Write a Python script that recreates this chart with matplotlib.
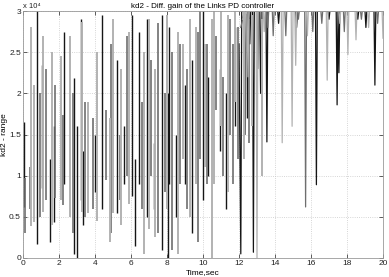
import numpy as np
import matplotlib
matplotlib.use("Agg")
import matplotlib.pyplot as plt

# kd2 in units of 1e4.  Up to ~13 s the three runs show as vertical bars
# (time, low, high); after 12 s they sit at the 3e4 limit with dips.
bar_t_dark = [0.05, 0.78, 1.05, 1.5, 1.7, 2.3, 2.85, 3.0, 3.2, 3.35,
              4.0, 4.4, 5.2, 5.6, 6.06, 6.2, 6.45, 6.9, 7.3, 7.7,
              8.05, 8.1, 8.5, 9.0, 9.4, 10.0, 10.3, 10.95, 11.3, 11.8,
              12.45]
bar_lo_dark = [0.62, 0.17, 0.85, 0.2, 0.44, 0.9, 0.05, 0.0, 0.7, 0.4,
               0.8, 0.6, 0.55, 0.9, 0.75, 0.15, 0.9, 0.5, 0.6, 0.1,
               0.0, 0.9, 0.5, 0.9, 0.3, 0.7, 1.0, 1.3, 0.6, 1.6,
               1.7]
bar_hi_dark = [1.65, 3.0, 2.34, 1.2, 1.6, 2.75, 2.19, 1.6, 2.9, 1.3,
               1.5, 2.95, 2.4, 1.6, 2.95, 1.2, 2.75, 2.9, 1.4, 2.95,
               2.0, 2.8, 1.5, 2.1, 2.4, 3.0, 2.2, 2.3, 2.0, 2.8,
               3.0]

bar_t_mid = [0.1, 0.4, 0.95, 1.3, 1.8, 2.2, 2.75, 3.45, 3.9, 4.6,
             4.9, 5.4, 5.8, 6.6, 7.1, 7.5, 7.9, 8.3, 8.7, 9.1,
             9.7, 9.85, 10.2, 10.7, 11.1, 11.5, 11.65, 11.95, 12.55, 13.3]
bar_lo_mid = [0.3, 0.6, 0.5, 0.7, 0.73, 0.64, 0.3, 0.5, 0.6, 0.95,
              0.3, 0.7, 1.0, 0.6, 1.0, 0.3, 0.8, 0.1, 0.9, 0.6,
              0.2, 1.2, 0.9, 1.8, 1.0, 1.5, 0.9, 1.2, 1.4, 1.8]
bar_hi_mid = [0.97, 1.1, 2.0, 2.3, 2.1, 1.74, 2.0, 1.9, 1.7, 1.8,
              2.6, 1.5, 2.7, 1.9, 2.4, 2.85, 2.0, 2.5, 2.6, 2.3,
              2.75, 3.0, 2.6, 2.7, 2.2, 2.9, 2.6, 2.8, 2.9, 3.0]

bar_t_light = [0.45, 0.6, 1.1, 1.6, 2.1, 2.6, 3.25, 3.6, 4.1, 4.85,
               5.0, 5.45, 5.9, 6.7, 7.0, 7.35, 8.0, 8.6, 8.9, 9.3,
               9.6, 10.1, 10.5, 10.6, 11.0, 11.4, 11.75, 12.25, 12.7, 13.25]
bar_lo_light = [0.39, 0.44, 0.56, 0.4, 0.7, 0.5, 0.56, 0.55, 0.45, 0.2,
                0.55, 0.4, 0.65, 0.05, 0.35, 0.25, 0.6, 0.05, 1.2, 0.5,
                0.9, 1.1, 0.0, 0.9, 1.6, 0.8, 1.9, 1.2, 1.6, 1.0]
bar_hi_light = [2.8, 2.1, 2.7, 2.5, 2.45, 2.7, 2.87, 1.9, 2.5, 1.7,
                2.9, 2.3, 2.75, 2.5, 2.9, 2.3, 2.95, 2.75, 2.6, 2.9,
                2.8, 2.6, 2.9, 3.0, 3.0, 2.95, 3.0, 3.0, 2.95, 2.9]

t_dark = [12.0, 12.1, 12.15, 12.55, 12.6, 12.65, 12.75, 12.8, 12.85, 13.15,
          13.2, 13.25, 13.5, 13.55, 13.6, 14.15, 14.2, 14.25, 15.15, 15.2,
          15.25, 16.25, 16.3, 16.35, 16.95, 17.0, 17.05, 17.4, 17.45, 17.5,
          17.55, 17.6, 18.55, 18.6, 18.65, 19.0, 19.05, 19.1, 19.5, 19.55,
          19.6, 20.0]
kd2_dark = [2.6, 0.05, 3.0, 3.0, 2.6, 3.0, 3.0, 0.07, 3.0, 3.0,
            2.0, 3.0, 3.0, 1.41, 3.0, 3.0, 2.85, 3.0, 3.0, 2.8,
            3.0, 3.0, 0.89, 3.0, 3.0, 2.9, 3.0, 3.0, 1.86, 3.0,
            2.25, 3.0, 3.0, 2.9, 3.0, 3.0, 2.8, 3.0, 3.0, 2.1,
            3.0, 3.0]

t_mid = [12.1, 12.3, 12.35, 12.4, 13.0, 13.05, 13.1, 13.55, 13.6, 13.65,
         13.85, 13.9, 13.95, 14.55, 14.6, 14.65, 15.25, 15.3, 15.35, 15.65,
         15.7, 15.75, 16.05, 16.1, 16.15, 16.55, 16.6, 16.65, 17.8, 17.85,
         17.9, 18.75, 18.8, 18.85, 19.65, 19.7, 19.75, 20.0]
kd2_mid = [2.8, 3.0, 1.5, 3.0, 3.0, 2.3, 3.0, 3.0, 2.8, 3.0,
           3.0, 2.7, 3.0, 3.0, 2.7, 3.0, 3.0, 2.9, 3.0, 3.0,
           0.62, 3.0, 3.0, 2.75, 3.0, 3.0, 2.85, 3.0, 3.0, 2.75,
           3.0, 3.0, 2.9, 3.0, 3.0, 2.85, 3.0, 3.0]

t_light = [12.2, 12.45, 12.5, 12.55, 12.95, 13.0, 13.05, 13.35, 13.4, 13.45,
           14.35, 14.4, 14.45, 14.9, 14.95, 15.0, 15.1, 15.15, 15.2, 15.75,
           15.8, 15.85, 16.85, 16.9, 16.95, 17.55, 17.6, 17.65, 18.0, 18.05,
           18.1, 18.45, 18.5, 18.55, 19.15, 19.2, 19.25, 19.95, 20.0]
kd2_light = [2.9, 3.0, 2.2, 3.0, 3.0, 0.0, 3.0, 3.0, 2.75, 3.0,
             3.0, 1.4, 3.0, 3.0, 1.6, 3.0, 3.0, 2.34, 3.0, 3.0,
             2.7, 3.0, 3.0, 2.16, 3.0, 3.0, 2.85, 3.0, 3.0, 2.47,
             3.0, 3.0, 2.65, 3.0, 3.0, 2.8, 3.0, 3.0, 2.67]

x_ticks = np.arange(0, 21, 2)
y_ticks = np.arange(0, 3.01, 0.5)

colors = {'dark': '#151515', 'mid': '#6e6e6e', 'light': '#b2b2b2'}


def main(w=389, h=277, fs=6):
    plt.rcParams['font.family'] = ['Liberation Sans', 'DejaVu Sans']
    fig = plt.figure(figsize=(w / 100, h / 100), dpi=100)
    ax = fig.add_axes([23 / w, 19 / h, 360 / w, 247 / h])

    runs = [('dark', bar_t_dark, bar_lo_dark, bar_hi_dark, t_dark, kd2_dark, 1.0),
            ('mid', bar_t_mid, bar_lo_mid, bar_hi_mid, t_mid, kd2_mid, 1.2),
            ('light', bar_t_light, bar_lo_light, bar_hi_light, t_light, kd2_light, 1.4)]
    for name, bt, blo, bhi, tt, vals, lw in runs:
        c = colors[name]
        ax.vlines(bt, blo, bhi, color=c, lw=lw)
        ax.plot(tt, vals, color=c, lw=0.9)

    ax.set_xlim(0, 20)
    ax.set_ylim(0, 3)
    ax.set_xticks(x_ticks)
    ax.set_yticks(y_ticks)
    ax.set_yticklabels([f'{v:g}' for v in y_ticks])
    # MATLAB-style exponent label above the y axis
    ax.text(0.0, 1.004, 'x 10\u2074', transform=ax.transAxes, fontsize=5.5,
            ha='left', va='bottom', color='#222222',
            family=['Liberation Sans', 'DejaVu Sans'])
    ax.tick_params(direction='in', top=True, right=True, length=3, width=0.5,
                   labelsize=fs, pad=1.5, colors='#222222')
    ax.grid(True, linestyle=':', color='#c8c8c8', lw=0.6)
    for sp in ax.spines.values():
        sp.set_linewidth(0.6)
        sp.set_color('#999999')

    ax.set_title('kd2 - Diff. gain of the Links PD controller', fontsize=5.8, pad=2)
    ax.set_xlabel('Time,sec', fontsize=fs)
    ax.set_ylabel('kd2 - range', fontsize=fs)
    ax.xaxis.set_label_coords(0.5, -0.045)
    ax.yaxis.set_label_coords(-0.042, 0.5)

    fig.savefig('out.png', dpi=100)
    return 0


if __name__ == "__main__":
    main()
